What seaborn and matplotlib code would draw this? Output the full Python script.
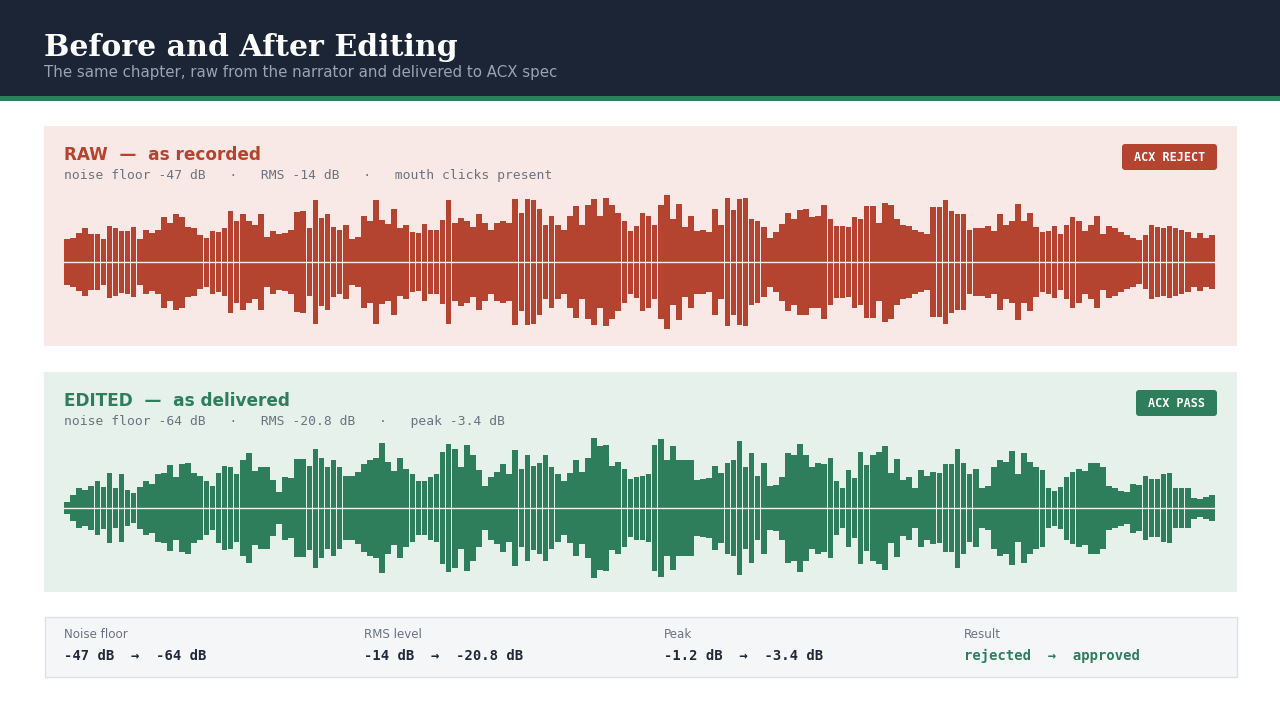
import matplotlib
matplotlib.use('Agg')
import matplotlib.pyplot as plt
from matplotlib.patches import Rectangle, FancyBboxPatch
import seaborn as sns
import pandas as pd

# ++++++++++++++++++++++++++++++++++++++++++++++++++++ data (peak amplitude per block, 0..1)
raw_peaks = [
    .33, .35, .41, .49, .40, .40, .33, .52, .49, .44,
    .45, .50, .33, .46, .41, .46, .65, .56, .68, .65,
    .50, .48, .38, .35, .45, .43, .49, .73, .58, .68,
    .58, .53, .68, .36, .45, .40, .42, .46, .72, .73,
    .49, .88, .63, .68, .50, .46, .53, .33, .36, .66,
    .58, .89, .60, .55, .76, .48, .53, .43, .42, .55,
    .46, .46, .60, .89, .56, .63, .59, .50, .68, .56,
    .46, .56, .59, .56, .90, .70, .90, .88, .76, .53,
    .66, .53, .46, .66, .80, .53, .82, .90, .66, .92,
    .82, .70, .58, .45, .52, .70, .66, .53, .82, .96,
    .62, .83, .50, .66, .45, .46, .43, .76, .53, .92,
    .75, .90, .92, .62, .58, .50, .35, .43, .55, .70,
    .62, .75, .76, .65, .66, .82, .62, .52, .52, .50,
    .65, .62, .80, .80, .56, .85, .82, .62, .53, .52,
    .46, .43, .40, .79, .79, .88, .73, .69, .69, .46,
    .48, .49, .52, .45, .68, .53, .58, .83, .59, .70,
    .50, .43, .45, .52, .40, .53, .65, .59, .45, .53,
    .66, .40, .52, .49, .43, .38, .35, .32, .39, .53,
    .50, .49, .52, .48, .46, .43, .35, .42, .35, .38,
]

edited_peaks = [
    .09, .18, .28, .26, .32, .38, .30, .50, .29, .48,
    .26, .22, .30, .39, .35, .48, .50, .62, .45, .63,
    .65, .50, .46, .38, .32, .50, .60, .59, .48, .68,
    .78, .53, .59, .58, .40, .23, .45, .43, .70, .70,
    .60, .85, .72, .58, .68, .59, .46, .46, .52, .63,
    .69, .72, .93, .66, .53, .72, .56, .48, .38, .38,
    .45, .49, .80, .92, .85, .59, .90, .76, .55, .32,
    .45, .52, .63, .49, .83, .56, .76, .60, .65, .76,
    .59, .49, .38, .50, .68, .52, .72, 1.0, .89, .90,
    .60, .66, .56, .42, .45, .46, .48, .90, .98, .69,
    .89, .69, .69, .68, .40, .42, .43, .60, .50, .65,
    .69, .96, .59, .79, .46, .65, .32, .33, .45, .78,
    .76, .92, .76, .59, .65, .63, .72, .38, .29, .55,
    .43, .80, .62, .76, .80, .88, .50, .70, .40, .45,
    .28, .55, .46, .52, .50, .63, .63, .85, .65, .49,
    .56, .28, .32, .59, .69, .66, .82, .49, .78, .66,
    .58, .55, .29, .25, .30, .45, .52, .56, .53, .65,
    .65, .58, .32, .29, .25, .23, .35, .33, .46, .42,
    .42, .49, .50, .29, .28, .29, .15, .13, .16, .19,
]

title = 'Before and After Editing'
subtitle = 'The same chapter, raw from the narrator and delivered to ACX spec'

raw_title = 'RAW  \u2014  as recorded'
raw_stats = 'noise floor -47 dB   \u00b7   RMS -14 dB   \u00b7   mouth clicks present'
raw_badge = 'ACX REJECT'

edited_title = 'EDITED  \u2014  as delivered'
edited_stats = 'noise floor -64 dB   \u00b7   RMS -20.8 dB   \u00b7   peak -3.4 dB'
edited_badge = 'ACX PASS'

summary_labels = ['Noise floor', 'RMS level', 'Peak', 'Result']
summary_before = ['-47 dB', '-14 dB', '-1.2 dB', 'rejected']
summary_after = ['-64 dB', '-20.8 dB', '-3.4 dB', 'approved']

# ++++++++++++++++++++++++++++++++++++++++++++++++++++ styles
RED = '#b4432f'
GREEN = '#2e7d5b'
NAVY = '#1c2536'
GREY = '#6b7280'
INK = '#1f2937'
MONO = 'DejaVu Sans Mono'

W, H = 1280, 720
fig = plt.figure(figsize=(12.8, 7.2), dpi=100)
fig.patch.set_facecolor('white')

# background layer in pixel units
bg = fig.add_axes([0, 0, 1, 1])
bg.set_xlim(0, W)
bg.set_ylim(H, 0)
bg.axis('off')

bg.add_patch(Rectangle((0, 0), W, 96, color=NAVY, lw=0))
bg.add_patch(Rectangle((0, 96), W, 5, color=GREEN, lw=0))
bg.text(44, 56, title, family='DejaVu Serif', weight='bold', fontsize=21.6,
        color='white', va='baseline')
bg.text(44, 73, subtitle, family='DejaVu Sans', fontsize=10.8, color='#9aa3b2', va='center')


def panel(top, fill, color, head, stats, badge, badge_w):
    bg.add_patch(Rectangle((44, top), 1193, 220, color=fill, lw=0))
    bg.text(64, top + 34, head, family='DejaVu Sans', weight='bold', fontsize=12.2,
            color=color, va='baseline')
    bg.text(64, top + 50, stats, family=MONO, fontsize=9.4, color=GREY, va='center')
    bx = 1217 - badge_w
    bg.add_patch(FancyBboxPatch((bx, top + 18), badge_w, 26,
                                boxstyle='round,pad=0,rounding_size=3',
                                fc=color, ec='none'))
    bg.text(bx + badge_w / 2, top + 31.5, badge, family=MONO, weight='bold',
            fontsize=8.5, color='white', ha='center', va='center')


panel(126, '#f8e9e6', RED, raw_title, raw_stats, raw_badge, 95)
panel(372, '#e6f1eb', GREEN, edited_title, edited_stats, edited_badge, 81)

# summary strip
bg.add_patch(Rectangle((44.5, 616.5), 1192, 60, fc='#f4f6f8', ec='#dde1e6', lw=1))
for i, lab in enumerate(summary_labels):
    x = 64 + 300 * i
    bg.text(x, 635, lab, family='DejaVu Sans', fontsize=8.6, color=GREY, va='center')
    col = GREEN if lab == 'Result' else INK
    bg.text(x, 656, summary_before[i] + '  \u2192  ' + summary_after[i], family=MONO,
            weight='bold', fontsize=10, color=col, va='center')


# ++++++++++++++++++++++++++++++++++++++++++++++++++++ waveforms
def waveform(center_y, peaks, color, line_color):
    left, right = 64, 1215
    half = 70
    ax = fig.add_axes([left / W, 1 - (center_y + half) / H, (right - left) / W, 2 * half / H])
    df = pd.DataFrame({'block': range(len(peaks)), 'peak': peaks})
    df['trough'] = -df['peak']
    sns.barplot(data=df, x='block', y='peak', color=color, saturation=1,
                width=0.93, errorbar=None, ax=ax)
    sns.barplot(data=df, x='block', y='trough', color=color, saturation=1,
                width=0.93, errorbar=None, ax=ax)
    for p in ax.patches:
        p.set_linewidth(0)
    ax.axhline(0, color=line_color, lw=1)
    ax.set_xlim(-0.5, len(peaks) - 0.5)
    ax.set_ylim(-1, 1)
    ax.axis('off')
    ax.patch.set_alpha(0)


waveform(262, raw_peaks, RED, '#fbeeeb')
waveform(508, edited_peaks, GREEN, '#eef6f1')

fig.savefig('out.png', dpi=100)
plt.close()
